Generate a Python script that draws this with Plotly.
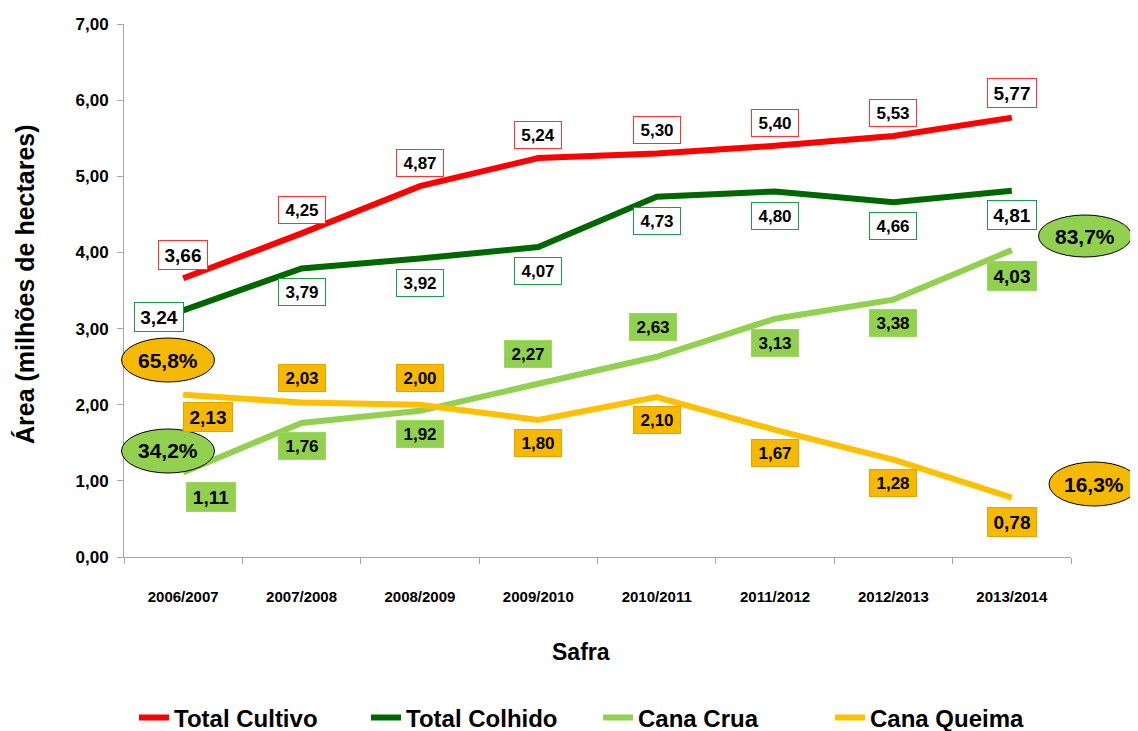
import plotly.graph_objects as go

# safras (x categories)
safras = ["2006/2007", "2007/2008", "2008/2009", "2009/2010",
          "2010/2011", "2011/2012", "2012/2013", "2013/2014"]

# area in millions of hectares
total_cultivo = [3.66, 4.25, 4.87, 5.24, 5.30, 5.40, 5.53, 5.77]
total_colhido = [3.24, 3.79, 3.92, 4.07, 4.73, 4.80, 4.66, 4.81]
cana_crua = [1.11, 1.76, 1.92, 2.27, 2.63, 3.13, 3.38, 4.03]
cana_queima = [2.13, 2.03, 2.00, 1.80, 2.10, 1.67, 1.28, 0.78]

# share labels shown in the ellipses
pct_inicio_queima = "65,8%"
pct_inicio_crua = "34,2%"
pct_fim_crua = "83,7%"
pct_fim_queima = "16,3%"

# page has an 8px body margin, so the figure is a bit smaller than the window
OFF = 8
W, H = 1130, 723
L, T = 116, 16
PW, PH = 947, 533
R, B = W - L - PW, H - T - PH

ARIAL = "Liberation Sans, Arial, sans-serif"

RED = "#ff0000"
DGREEN = "#006600"
LGREEN = "#92d050"
ORANGE = "#ffc000"


def fmt(v):
    return f"{v:.2f}".replace(".", ",")


# screen pixel -> paper coords
def px_x(px):
    return (px - OFF - L) / PW


def px_y(py):
    return (T + PH - (py - OFF)) / PH


series = [
    dict(name="Total Cultivo", y=total_cultivo, color=RED,
         bg="white", border="#ff3333",
         offs=[(0, 23)] * 7 + [(0, 25)]),
    dict(name="Total Colhido", y=total_colhido, color=DGREEN,
         bg="white", border="#1e9a4e",
         offs=[(-24, -7)] + [(0, -24)] * 7),
    dict(name="Cana Crua", y=cana_crua, color=LGREEN,
         bg="#92d050", border="#9cd75c",
         offs=[(28, -25), (0, -23), (0, -23), (-10, 30), (-4, 30),
               (0, -24), (0, -23), (0, -26)]),
    dict(name="Cana Queima", y=cana_queima, color=ORANGE,
         bg="#f6b900", border="#e6a200",
         offs=[(25, -22), (0, 24), (0, 27), (0, -23), (0, -23),
               (0, -23), (0, -23), (0, -24)]),
]

fig = go.Figure()
annotations = []

for s in series:
    fig.add_trace(go.Scatter(
        x=safras, y=s["y"], name=s["name"], mode="lines",
        line=dict(color=s["color"], width=6),
        cliponaxis=False,
    ))
    n = len(s["y"])
    for i, (cat, v) in enumerate(zip(safras, s["y"])):
        big = i == 0 or i == n - 1
        xs, ys = s["offs"][i]
        annotations.append(dict(
            x=cat, y=v, xref="x", yref="y", showarrow=False,
            text=fmt(v), xshift=xs, yshift=ys,
            xanchor="center", yanchor="middle",
            font=dict(family=ARIAL, size=19 if big else 17,
                      color="black", weight="bold"),
            bgcolor=s["bg"], bordercolor=s["border"], borderwidth=1,
            borderpad=3, width=42 if big else 40, height=22 if big else 20,
            align="center", valign="middle",
        ))

# ellipses with the shares (screen pixel boxes: cx, cy, w, h)
ellipses = [
    (pct_inicio_queima, 168, 360, 93, 44, "#f6b900"),
    (pct_inicio_crua, 168, 451, 93, 44, LGREEN),
    (pct_fim_crua, 1085, 236, 93, 42, LGREEN),
    (pct_fim_queima, 1094, 484, 90, 44, "#f6b900"),
]
shapes = []
for txt, cx, cy, w, h, fill in ellipses:
    shapes.append(dict(
        type="circle", xref="paper", yref="paper",
        x0=px_x(cx - w / 2), x1=px_x(cx + w / 2),
        y0=px_y(cy + h / 2), y1=px_y(cy - h / 2),
        fillcolor=fill, line=dict(color="black", width=1), layer="above",
    ))
    annotations.append(dict(
        x=px_x(cx), y=px_y(cy), xref="paper", yref="paper",
        xanchor="center", yanchor="middle",
        showarrow=False, text=txt,
        font=dict(family=ARIAL, size=21, color="black", weight="bold"),
    ))

# axis titles
annotations.append(dict(
    x=px_x(25), y=px_y(284), xref="paper", yref="paper", showarrow=False,
    xanchor="center", yanchor="middle",
    text="Área (milhões de hectares)", textangle=-90,
    font=dict(family=ARIAL, size=25, color="black", weight="bold"),
))
annotations.append(dict(
    x=px_x(581), y=px_y(652), xref="paper", yref="paper", showarrow=False,
    xanchor="center", yanchor="middle",
    text="Safra",
    font=dict(family=ARIAL, size=23, color="black", weight="bold"),
))

fig.update_layout(
    width=W, height=H,
    margin=dict(l=L, r=R, t=T, b=B, autoexpand=False),
    paper_bgcolor="white", plot_bgcolor="white",
    separators=",.",
    showlegend=True,
    legend=dict(
        orientation="h", x=px_x(134), xanchor="left",
        y=px_y(718), yanchor="middle",
        font=dict(family=ARIAL, size=24, color="black", weight="bold"),
        entrywidth=187, entrywidthmode="pixels",
        bgcolor="rgba(0,0,0,0)",
    ),
    annotations=annotations,
    shapes=shapes,
)

fig.update_xaxes(
    type="category", range=[-0.5, 7.5],
    showline=True, linecolor="#a6a6a6", linewidth=1,
    ticks="outside", tickson="boundaries", ticklen=6, tickcolor="#a6a6a6",
    showgrid=False, zeroline=False,
    tickfont=dict(family=ARIAL, size=15, color="black", weight="bold"),
    ticklabelstandoff=26,
)
fig.update_yaxes(
    range=[0, 7], dtick=1, tick0=0, tickformat=".2f",
    showline=True, linecolor="#a6a6a6", linewidth=1,
    ticks="outside", ticklen=6, tickcolor="#a6a6a6",
    showgrid=False, zeroline=False,
    tickfont=dict(family=ARIAL, size=17, color="black", weight="bold"),
    ticklabelstandoff=5,
)

fig.write_html("out.html")
